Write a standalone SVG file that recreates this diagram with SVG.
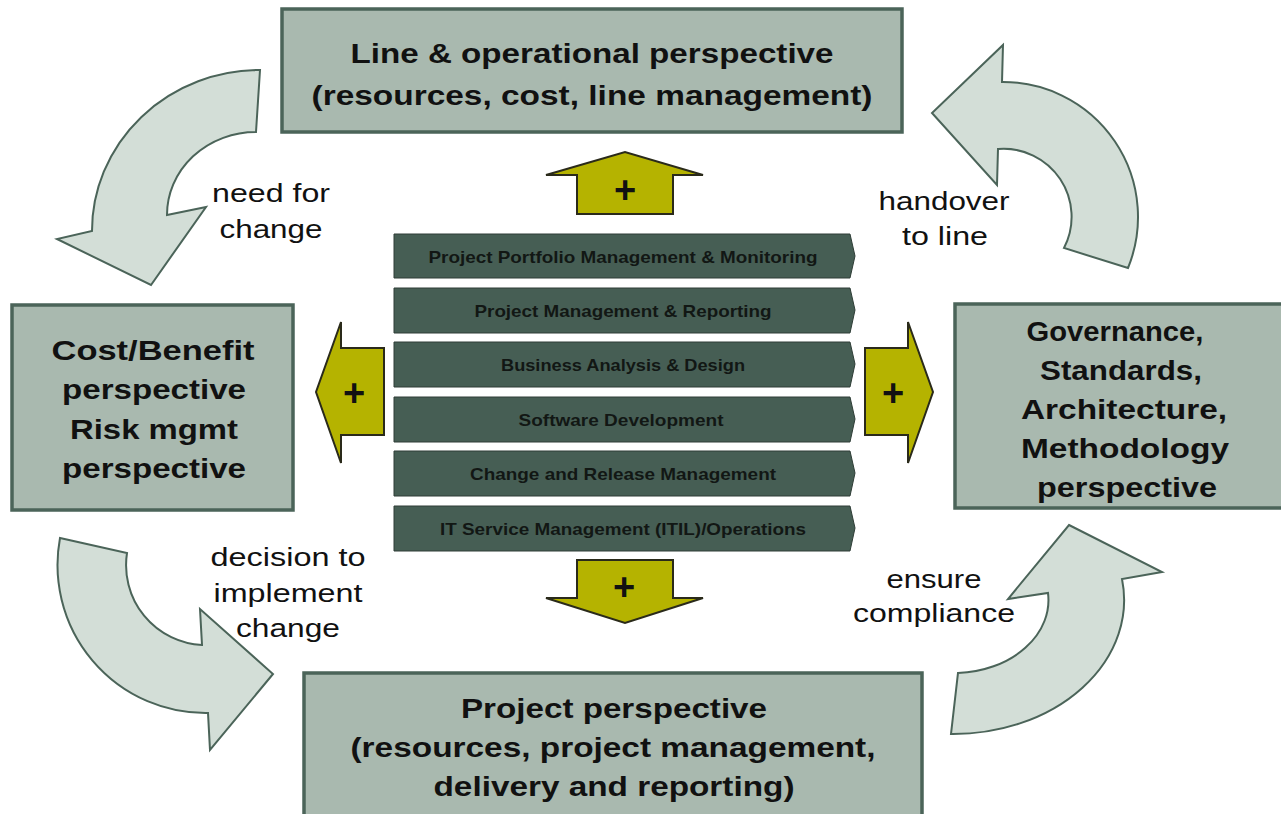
<svg xmlns="http://www.w3.org/2000/svg" width="1281" height="814" viewBox="0 0 1281 814">
<style>
.box{fill:#a9b9af;stroke:#4b6459;stroke-width:3.5}
.bt{font-family:"Liberation Sans",Arial,sans-serif;font-weight:bold;font-size:28px;fill:#111;text-anchor:middle}
.lbl{font-family:"Liberation Sans",Arial,sans-serif;font-size:25px;fill:#111;text-anchor:middle}
.bar{fill:#465e54;stroke:#2e3d36;stroke-width:1}
.bart{font-family:"Liberation Sans",Arial,sans-serif;font-weight:bold;font-size:17px;fill:#121714;text-anchor:middle}
.plus{fill:#b5b300;stroke:#2a2a1a;stroke-width:2;stroke-linejoin:miter}
.pt{font-family:"Liberation Sans",Arial,sans-serif;font-weight:bold;font-size:38px;fill:#111;text-anchor:middle}
.curve{fill:#d3ded7;stroke:#4b6459;stroke-width:2;stroke-linejoin:miter}
</style>
<rect width="1281" height="814" fill="#ffffff"/>
<g id="connectors">
<path class="curve" d="M260,70 A168,161 0 0 0 92,231 L57,239 L151,285 L206,207 L167,215 A89,83 0 0 1 256,132 Z"/>
<path class="curve" d="M1003,45 L1002,82 A135,135 0 0 1 1128,268 L1064,248 A68,68 0 0 0 998,149 L997,185 L932,113 Z"/>
<path class="curve" d="M60,538 A148,148 0 0 0 208,713 L210,750 L273,674 L200,609 L202,645 A80,80 0 0 1 127,553 Z"/>
<path class="curve" d="M1069,525 L1162,572 L1122,579 A171,134 0 0 1 951,734 L958,673 A95,73 0 0 0 1048,593 L1008,599 Z"/>
</g>
<g id="label-need">
<text class="lbl" x="271" y="202" textLength="118" lengthAdjust="spacingAndGlyphs">need for</text>
<text class="lbl" x="271" y="238" textLength="103" lengthAdjust="spacingAndGlyphs">change</text>
</g>
<g id="label-handover">
<text class="lbl" x="944" y="210" textLength="131" lengthAdjust="spacingAndGlyphs">handover</text>
<text class="lbl" x="945" y="245" textLength="86" lengthAdjust="spacingAndGlyphs">to line</text>
</g>
<g id="label-decision">
<text class="lbl" x="288" y="566" textLength="155" lengthAdjust="spacingAndGlyphs">decision to</text>
<text class="lbl" x="288" y="602" textLength="149" lengthAdjust="spacingAndGlyphs">implement</text>
<text class="lbl" x="288" y="637" textLength="104" lengthAdjust="spacingAndGlyphs">change</text>
</g>
<g id="label-ensure">
<text class="lbl" x="934" y="588" textLength="95" lengthAdjust="spacingAndGlyphs">ensure</text>
<text class="lbl" x="934" y="622" textLength="162" lengthAdjust="spacingAndGlyphs">compliance</text>
</g>
<g id="node-line">
<rect class="box" x="282" y="9" width="620" height="123"/>
<text class="bt" x="592" y="63" textLength="483" lengthAdjust="spacingAndGlyphs">Line &amp; operational perspective</text>
<text class="bt" x="592" y="105" textLength="561" lengthAdjust="spacingAndGlyphs">(resources, cost, line management)</text>
</g>
<g id="node-cost">
<rect class="box" x="12" y="305" width="281" height="205"/>
<text class="bt" x="153" y="360" textLength="203" lengthAdjust="spacingAndGlyphs">Cost/Benefit</text>
<text class="bt" x="154" y="399" textLength="184" lengthAdjust="spacingAndGlyphs">perspective</text>
<text class="bt" x="154" y="439" textLength="168" lengthAdjust="spacingAndGlyphs">Risk mgmt</text>
<text class="bt" x="154" y="478" textLength="184" lengthAdjust="spacingAndGlyphs">perspective</text>
</g>
<g id="node-governance">
<rect class="box" x="955" y="304" width="335" height="204"/>
<text class="bt" x="1115" y="341" textLength="177" lengthAdjust="spacingAndGlyphs">Governance,</text>
<text class="bt" x="1121" y="380" textLength="162" lengthAdjust="spacingAndGlyphs">Standards,</text>
<text class="bt" x="1124" y="419" textLength="206" lengthAdjust="spacingAndGlyphs">Architecture,</text>
<text class="bt" x="1125" y="458" textLength="208" lengthAdjust="spacingAndGlyphs">Methodology</text>
<text class="bt" x="1127" y="497" textLength="180" lengthAdjust="spacingAndGlyphs">perspective</text>
</g>
<g id="node-project">
<rect class="box" x="304" y="673" width="618" height="150"/>
<text class="bt" x="614" y="718" textLength="306" lengthAdjust="spacingAndGlyphs">Project perspective</text>
<text class="bt" x="613" y="757" textLength="525" lengthAdjust="spacingAndGlyphs">(resources, project management,</text>
<text class="bt" x="614" y="796" textLength="361" lengthAdjust="spacingAndGlyphs">delivery and reporting)</text>
</g>
<g id="bar-portfolio">
<path class="bar" d="M394,234 H850 L855,256 L850,278 H394 Z"/>
<text class="bart" x="623" y="263" textLength="389" lengthAdjust="spacingAndGlyphs">Project Portfolio Management &amp; Monitoring</text>
</g>
<g id="bar-pm">
<path class="bar" d="M394,288 H850 L855,310 L850,333 H394 Z"/>
<text class="bart" x="623" y="317" textLength="297" lengthAdjust="spacingAndGlyphs">Project Management &amp; Reporting</text>
</g>
<g id="bar-ba">
<path class="bar" d="M394,342 H850 L855,364 L850,387 H394 Z"/>
<text class="bart" x="623" y="371" textLength="244" lengthAdjust="spacingAndGlyphs">Business Analysis &amp; Design</text>
</g>
<g id="bar-sd">
<path class="bar" d="M394,397 H850 L855,419 L850,442 H394 Z"/>
<text class="bart" x="621" y="426" textLength="205" lengthAdjust="spacingAndGlyphs">Software Development</text>
</g>
<g id="bar-crm">
<path class="bar" d="M394,451 H850 L855,473 L850,496 H394 Z"/>
<text class="bart" x="623" y="480" textLength="306" lengthAdjust="spacingAndGlyphs">Change and Release Management</text>
</g>
<g id="bar-itsm">
<path class="bar" d="M394,506 H850 L855,528 L850,551 H394 Z"/>
<text class="bart" x="623" y="535" textLength="366" lengthAdjust="spacingAndGlyphs">IT Service Management (ITIL)/Operations</text>
</g>
<g id="plus-up">
<path class="plus" d="M577,214 V175 H546 L625,152 L703,175 H673 V214 Z"/>
<text class="pt" x="625" y="203">+</text>
</g>
<g id="plus-down">
<path class="plus" d="M577,560 V598 H546 L625,623 L703,598 H673 V560 Z"/>
<text class="pt" x="624" y="600">+</text>
</g>
<g id="plus-left">
<path class="plus" d="M384,348 H341 V322 L316,392 L341,463 V435 H384 Z"/>
<text class="pt" x="354" y="406">+</text>
</g>
<g id="plus-right">
<path class="plus" d="M865,348 H908 V322 L933,392 L908,463 V435 H865 Z"/>
<text class="pt" x="893" y="406">+</text>
</g>
</svg>
